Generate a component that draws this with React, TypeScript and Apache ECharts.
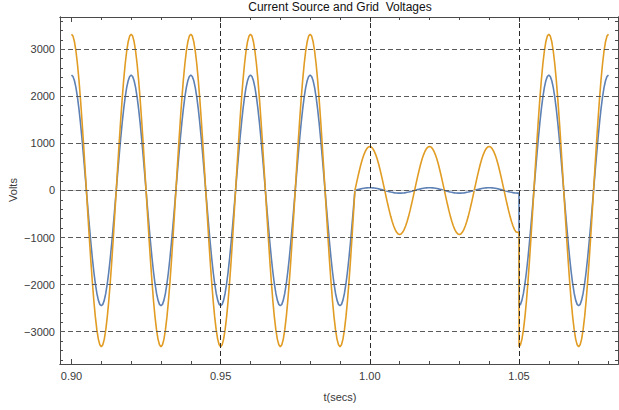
import React, { useEffect, useRef } from "react";
import * as echarts from "echarts";

// Sample spacing (seconds) and start time of each regime
const sampleStep = 0.0005;
const normalStart = 0.9;
const faultStart = 0.9955;
const restoreStart = 1.05;

// Current source voltage (blue), volts
const sourceNormal = [
  2450,2420,2330,2183,1982,1732,1440,1112,757,383,0,-383,-757,-1112,-1440,-1732,-1982,-2183,-2330,-2420,
  -2450,-2420,-2330,-2183,-1982,-1732,-1440,-1112,-757,-383,0,383,757,1112,1440,1732,1982,2183,2330,2420,
  2450,2420,2330,2183,1982,1732,1440,1112,757,383,0,-383,-757,-1112,-1440,-1732,-1982,-2183,-2330,-2420,
  -2450,-2420,-2330,-2183,-1982,-1732,-1440,-1112,-757,-383,0,383,757,1112,1440,1732,1982,2183,2330,2420,
  2450,2420,2330,2183,1982,1732,1440,1112,757,383,0,-383,-757,-1112,-1440,-1732,-1982,-2183,-2330,-2420,
  -2450,-2420,-2330,-2183,-1982,-1732,-1440,-1112,-757,-383,0,383,757,1112,1440,1732,1982,2183,2330,2420,
  2450,2420,2330,2183,1982,1732,1440,1112,757,383,0,-383,-757,-1112,-1440,-1732,-1982,-2183,-2330,-2420,
  -2450,-2420,-2330,-2183,-1982,-1732,-1440,-1112,-757,-383,0,383,757,1112,1440,1732,1982,2183,2330,2420,
  2450,2420,2330,2183,1982,1732,1440,1112,757,383,0,-383,-757,-1112,-1440,-1732,-1982,-2183,-2330,-2420,
  -2450,-2420,-2330,-2183,-1982,-1732,-1440,-1112,-757,-383,0,
];
const sourceFault = [
  9,18,26,34,40,46,51,54,56,
  57,56,54,51,46,40,34,26,18,9,0,-9,-18,-26,-34,-40,-46,-51,-54,-56,
  -57,-56,-54,-51,-46,-40,-34,-26,-18,-9,0,9,18,26,34,40,46,51,54,56,
  57,56,54,51,46,40,34,26,18,9,0,-9,-18,-26,-34,-40,-46,-51,-54,-56,
  -57,-56,-54,-51,-46,-40,-34,-26,-18,-9,0,9,18,26,34,40,46,51,54,56,
  57,56,54,51,46,40,34,26,18,9,0,-9,-18,-26,-34,-40,-46,-51,-54,-56,-57,
];
const sourceRestored = [
  -2450,-2420,-2330,-2183,-1982,-1732,-1440,-1112,-757,-383,0,383,757,1112,1440,1732,1982,2183,2330,2420,
  2450,2420,2330,2183,1982,1732,1440,1112,757,383,0,-383,-757,-1112,-1440,-1732,-1982,-2183,-2330,-2420,
  -2450,-2420,-2330,-2183,-1982,-1732,-1440,-1112,-757,-383,0,383,757,1112,1440,1732,1982,2183,2330,2420,
  2450,
];

// Grid voltage (orange), volts
const gridNormal = [
  3320,3279,3158,2958,2686,2348,1951,1507,1026,519,0,-519,-1026,-1507,-1951,-2348,-2686,-2958,-3158,-3279,
  -3320,-3279,-3158,-2958,-2686,-2348,-1951,-1507,-1026,-519,0,519,1026,1507,1951,2348,2686,2958,3158,3279,
  3320,3279,3158,2958,2686,2348,1951,1507,1026,519,0,-519,-1026,-1507,-1951,-2348,-2686,-2958,-3158,-3279,
  -3320,-3279,-3158,-2958,-2686,-2348,-1951,-1507,-1026,-519,0,519,1026,1507,1951,2348,2686,2958,3158,3279,
  3320,3279,3158,2958,2686,2348,1951,1507,1026,519,0,-519,-1026,-1507,-1951,-2348,-2686,-2958,-3158,-3279,
  -3320,-3279,-3158,-2958,-2686,-2348,-1951,-1507,-1026,-519,0,519,1026,1507,1951,2348,2686,2958,3158,3279,
  3320,3279,3158,2958,2686,2348,1951,1507,1026,519,0,-519,-1026,-1507,-1951,-2348,-2686,-2958,-3158,-3279,
  -3320,-3279,-3158,-2958,-2686,-2348,-1951,-1507,-1026,-519,0,519,1026,1507,1951,2348,2686,2958,3158,3279,
  3320,3279,3158,2958,2686,2348,1951,1507,1026,519,0,-519,-1026,-1507,-1951,-2348,-2686,-2958,-3158,-3279,
  -3320,-3279,-3158,-2958,-2686,-2348,-1951,-1507,-1026,-519,0,
];
const gridFault = [
  146,289,424,550,661,756,833,889,923,
  935,923,889,833,756,661,550,424,289,146,0,-146,-289,-424,-550,-661,-756,-833,-889,-923,
  -935,-923,-889,-833,-756,-661,-550,-424,-289,-146,0,146,289,424,550,661,756,833,889,923,
  935,923,889,833,756,661,550,424,289,146,0,-146,-289,-424,-550,-661,-756,-833,-889,-923,
  -935,-923,-889,-833,-756,-661,-550,-424,-289,-146,0,146,289,424,550,661,756,833,889,923,
  935,923,889,833,756,661,550,424,289,146,0,-146,-289,-424,-550,-661,-756,-833,-880,-890,-895,
];
const gridRestored = [
  -3320,-3279,-3158,-2958,-2686,-2348,-1951,-1507,-1026,-519,0,519,1026,1507,1951,2348,2686,2958,3158,3279,
  3320,3279,3158,2958,2686,2348,1951,1507,1026,519,0,-519,-1026,-1507,-1951,-2348,-2686,-2958,-3158,-3279,
  -3320,-3279,-3158,-2958,-2686,-2348,-1951,-1507,-1026,-519,0,519,1026,1507,1951,2348,2686,2958,3158,3279,
  3320,
];

// Axis ticks and grid lines
const xMajorTicks = [0.9, 0.95, 1.0, 1.05];
const xMinorTicks = [0.91, 0.92, 0.93, 0.94, 0.96, 0.97, 0.98, 0.99, 1.01, 1.02, 1.03, 1.04, 1.06, 1.07, 1.08];
const yMajorTicks = [-3000, -2000, -1000, 0, 1000, 2000, 3000];
const yMinorTicks = [
  -3600, -3400, -3200, -2800, -2600, -2400, -2200, -1800, -1600, -1400, -1200, -800, -600, -400, -200,
  200, 400, 600, 800, 1200, 1400, 1600, 1800, 2200, 2400, 2600, 2800, 3200, 3400, 3600,
];
const xGridLines = [0.95, 1.0, 1.05];
const yGridLines = [-3000, -2000, -1000, 0, 1000, 2000, 3000];

const X_MIN = 0.89615;
const X_MAX = 1.08319;
const Y_MIN = -3687;
const Y_MAX = 3685;

function buildSeries(segments: { start: number; values: number[] }[]) {
  const out: [number, number][] = [];
  segments.forEach((seg) => {
    seg.values.forEach((v, i) => {
      out.push([+(seg.start + i * sampleStep).toFixed(5), v]);
    });
  });
  return out;
}

const FONT = "Liberation Sans, Arial, sans-serif";
const TEXT_COLOR = "#3a3a3a";
const FRAME_COLOR = "#4a4a4a";

export default function App() {
  const ref = useRef<HTMLDivElement>(null);

  useEffect(() => {
    if (!ref.current) return;
    const chart = echarts.init(ref.current, undefined, { renderer: "svg" });

    const sourceData = buildSeries([
      { start: normalStart, values: sourceNormal },
      { start: faultStart, values: sourceFault },
      { start: restoreStart, values: sourceRestored },
    ]);
    const gridData = buildSeries([
      { start: normalStart, values: gridNormal },
      { start: faultStart, values: gridFault },
      { start: restoreStart, values: gridRestored },
    ]);

    const axisLine = { show: true, onZero: false, lineStyle: { color: FRAME_COLOR, width: 1 } };
    const xAxisBase = (position: string, ticks: number[], len: number, labels: boolean) => ({
      type: "value",
      position,
      min: X_MIN,
      max: X_MAX,
      axisLine,
      splitLine: { show: false },
      axisTick: {
        show: true,
        inside: true,
        length: len,
        customValues: ticks,
        lineStyle: { color: FRAME_COLOR, width: 1 },
      },
      axisLabel: labels
        ? {
            show: true,
            customValues: xMajorTicks,
            formatter: (v: number) => v.toFixed(2),
            color: TEXT_COLOR,
            fontFamily: FONT,
            fontSize: 11,
            margin: 6,
          }
        : { show: false },
    });
    const yAxisBase = (position: string, ticks: number[], len: number, labels: boolean) => ({
      type: "value",
      position,
      min: Y_MIN,
      max: Y_MAX,
      axisLine,
      splitLine: { show: false },
      axisTick: {
        show: true,
        inside: true,
        length: len,
        customValues: ticks,
        lineStyle: { color: FRAME_COLOR, width: 1 },
      },
      axisLabel: labels
        ? {
            show: true,
            customValues: yMajorTicks,
            formatter: (v: number) => (v < 0 ? "\u2212" + Math.abs(v) : String(v)),
            color: TEXT_COLOR,
            fontFamily: FONT,
            fontSize: 11,
            margin: 5,
          }
        : { show: false },
    });

    const option = {
      animation: false,
      backgroundColor: "#ffffff",
      title: {
        text: "Current Source and Grid  Voltages",
        left: 340,
        top: 1,
        textAlign: "center",
        padding: 0,
        textStyle: { fontFamily: FONT, fontSize: 12, fontWeight: "normal", color: "#111" },
      },
      grid: { left: 60, right: 1, top: 17, bottom: 46, containLabel: false },
      xAxis: [
        xAxisBase("bottom", xMajorTicks, 5, true),
        xAxisBase("bottom", xMinorTicks, 3, false),
        xAxisBase("top", xMajorTicks, 5, false),
        xAxisBase("top", xMinorTicks, 3, false),
      ],
      yAxis: [
        yAxisBase("left", yMajorTicks, 5, true),
        yAxisBase("left", yMinorTicks, 3, false),
        yAxisBase("right", yMajorTicks, 5, false),
        yAxisBase("right", yMinorTicks, 3, false),
      ],
      graphic: [
        {
          type: "text",
          x: 13,
          y: 190,
          rotation: Math.PI / 2,
          style: {
            text: "Volts",
            fontFamily: FONT,
            fontSize: 11,
            fill: TEXT_COLOR,
            align: "center",
            verticalAlign: "middle",
          },
        },
        {
          type: "text",
          x: 340,
          y: 397,
          style: {
            text: "t(secs)",
            fontFamily: FONT,
            fontSize: 11,
            fill: TEXT_COLOR,
            align: "center",
            verticalAlign: "middle",
          },
        },
      ],
      series: [
        {
          type: "line",
          name: "axis",
          data: [],
          z: 1,
          silent: true,
          markLine: {
            silent: true,
            symbol: "none",
            label: { show: false },
            animation: false,
            data: [{ yAxis: 0, lineStyle: { color: "#c8c8c8", width: 1.2, type: "solid" } }],
          },
        },
        {
          type: "line",
          name: "gridlines",
          data: [],
          z: 2,
          silent: true,
          markLine: {
            silent: true,
            symbol: "none",
            label: { show: false },
            animation: false,
            data: [
              ...yGridLines.map((v) => ({
                yAxis: v,
                lineStyle: { color: "#5a5a5a", width: 1, type: [5, 3] },
              })),
              ...xGridLines.map((v) => ({
                xAxis: v,
                lineStyle: { color: "#2a2a2a", width: 1, type: [5, 3] },
              })),
            ],
          },
        },
        {
          type: "line",
          name: "Current Source",
          data: sourceData,
          showSymbol: false,
          symbol: "none",
          z: 3,
          lineStyle: { color: "#5e81b5", width: 1.6 },
        },
        {
          type: "line",
          name: "Grid",
          data: gridData,
          showSymbol: false,
          symbol: "none",
          z: 4,
          lineStyle: { color: "#e19c24", width: 1.6 },
        },
      ],
    };

    chart.setOption(option as any);
    return () => chart.dispose();
  }, []);

  return <div ref={ref} style={{ width: 619, height: 410, position: "absolute", left: 0, top: 0 }} />;
}
